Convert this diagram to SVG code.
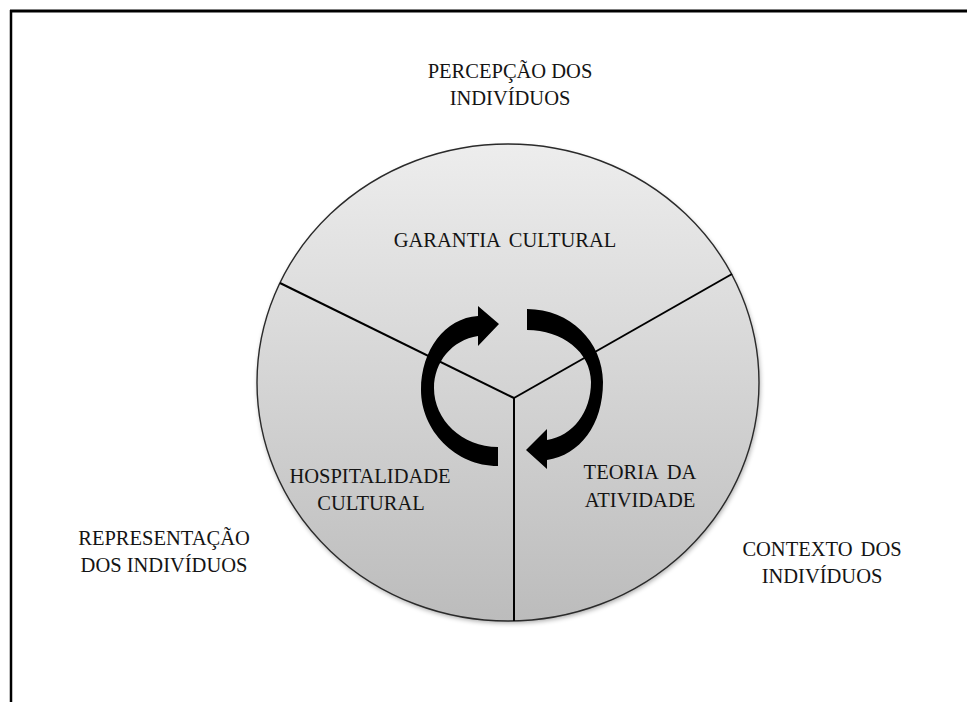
<svg xmlns="http://www.w3.org/2000/svg" width="967" height="702" viewBox="0 0 967 702">
<defs>
<linearGradient id="disc" x1="0" y1="0" x2="0" y2="1">
<stop offset="0" stop-color="#ededed"/>
<stop offset="1" stop-color="#bcbcbc"/>
</linearGradient>
<filter id="sh" x="-10%" y="-10%" width="120%" height="120%">
<feGaussianBlur stdDeviation="2.5"/>
</filter>
<filter id="soft" x="-10%" y="-10%" width="120%" height="120%">
<feGaussianBlur stdDeviation="0.6"/>
</filter>
</defs>
<style>
text{font-family:"Liberation Serif","Times New Roman",serif;font-size:20.5px;fill:#141414;text-anchor:middle}
.div{stroke:#000;stroke-width:2;fill:none}
.frame{stroke:#000;fill:none}
.arrow{fill:#000}
</style>
<rect width="967" height="702" fill="#fff"/>
<g id="frame">
<line class="frame" x1="10" y1="11" x2="967" y2="11" stroke-width="3"/>
<line class="frame" x1="11" y1="10" x2="11" y2="702" stroke-width="2.5"/>
</g>
<g id="circle">
<ellipse cx="509" cy="385" rx="251" ry="238" fill="#000" opacity="0.35" filter="url(#sh)"/>
<ellipse cx="508" cy="382.5" rx="251" ry="238.5" fill="url(#disc)" stroke="#2a2a2a" stroke-width="1.4"/>
</g>
<g id="connectors">
<line class="div" x1="280" y1="283" x2="514" y2="398"/>
<line class="div" x1="732" y1="274" x2="514" y2="398"/>
<line class="div" x1="514" y1="398" x2="514" y2="621" stroke-width="2.4"/>
</g>
<g id="cycle-arrows" filter="url(#soft)">
<path class="arrow" d="M 498 466 C 455 466, 421 430, 421 390 C 421 350, 445 318, 478 316 L 478 306 L 499 324 L 478 346 L 478 336 C 452 340, 434 362, 434 388 C 434 420, 462 447, 498 447 Z"/>
<path class="arrow" d="M 527 309 C 570 309, 603 342, 603 382 C 603 425, 580 455, 547 460 L 547 469 L 526 450 L 547 429 L 547 440 C 573 436, 591 412, 591 382 C 591 352, 562 330, 527 330 Z"/>
</g>
<g id="garantia-cultural"><text x="505" y="247" word-spacing="4">GARANTIA CULTURAL</text></g>
<g id="hospitalidade-cultural"><text x="370" y="483">HOSPITALIDADE</text><text x="371" y="510">CULTURAL</text></g>
<g id="teoria-da-atividade"><text x="640" y="479" word-spacing="4">TEORIA DA</text><text x="640" y="507">ATIVIDADE</text></g>
<g id="percepcao"><text x="510" y="78">PERCEPÇÃO DOS</text><text x="510" y="105">INDIVÍDUOS</text></g>
<g id="representacao"><text x="164" y="545">REPRESENTAÇÃO</text><text x="164" y="572">DOS INDIVÍDUOS</text></g>
<g id="contexto"><text x="822" y="556" word-spacing="3">CONTEXTO DOS</text><text x="822" y="583">INDIVÍDUOS</text></g>
</svg>
